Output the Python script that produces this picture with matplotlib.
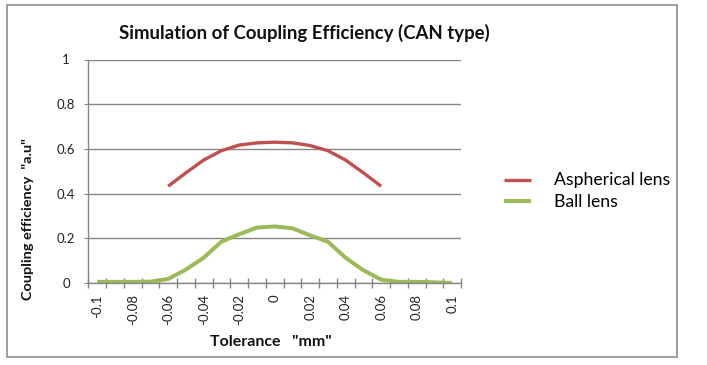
import numpy as np
import matplotlib
matplotlib.use("Agg")
import matplotlib.pyplot as plt
from matplotlib.patches import Rectangle

plt.rcParams['font.family'] = ['Lato', 'DejaVu Sans']

# tolerance categories (mm), one every 0.01
tolerance = [-0.1, -0.09, -0.08, -0.07, -0.06, -0.05, -0.04, -0.03, -0.02, -0.01, 0,
             0.01, 0.02, 0.03, 0.04, 0.05, 0.06, 0.07, 0.08, 0.09, 0.1]
tick_labels = ["-0.1", "", "-0.08", "", "-0.06", "", "-0.04", "", "-0.02", "", "0",
               "", "0.02", "", "0.04", "", "0.06", "", "0.08", "", "0.1"]

# aspherical lens only simulated from -0.06 to 0.06
aspherical = [None, None, None, None, 0.433, 0.493, 0.55, 0.592, 0.617, 0.627, 0.63,
              0.627, 0.615, 0.592, 0.55, 0.493, 0.433, None, None, None, None]
ball = [0.005, 0.005, 0.005, 0.006, 0.018, 0.06, 0.113, 0.185, 0.218, 0.248, 0.253,
        0.245, 0.213, 0.185, 0.113, 0.057, 0.015, 0.005, 0.005, 0.003, 0.0]

red = '#C0504D'
green = '#9BBB59'
grid_col = '#868686'

W, H = 707, 365
fig = plt.figure(figsize=(W / 100, H / 100), dpi=100)
ax = fig.add_axes([88.3 / W, 1 - 283 / H, (461 - 88.3) / W, (283 - 59.5) / H])

x = np.arange(len(tolerance))
asp = np.array([np.nan if v is None else v for v in aspherical], dtype=float)
ax.plot(x, asp, color=red, lw=2.4, solid_capstyle='butt', label='Aspherical lens')
ax.plot(x, ball, color=green, lw=2.9, solid_capstyle='butt', label='Ball lens')

ax.set_xlim(-0.5, len(tolerance) - 0.5)
ax.set_ylim(0, 1)

# category labels at centres, tick marks between categories
ax.set_xticks(x)
ax.set_xticklabels(tick_labels, rotation=90, fontsize=9.5, color='#222222')
ax.set_xticks(np.arange(-0.5, len(tolerance)), minor=True)
ax.tick_params(axis='x', which='major', length=0, pad=8)
ax.tick_params(axis='x', which='minor', length=7, direction='inout', color=grid_col, width=1)

ax.set_yticks(np.arange(0, 1.01, 0.2))
ax.set_yticklabels(["0", "0.2", "0.4", "0.6", "0.8", "1"], fontsize=9.5, color='#222222')
ax.tick_params(axis='y', length=3, color=grid_col, pad=13)
for t in ax.get_yticklabels():
    t.set_horizontalalignment('center')

ax.yaxis.grid(True, color=grid_col, lw=1)
ax.set_axisbelow(True)
for s in ['top', 'right']:
    ax.spines[s].set_visible(False)
for s in ['left', 'bottom']:
    ax.spines[s].set_color(grid_col)
    ax.spines[s].set_linewidth(1)

renderer = fig.canvas.get_renderer()


def fit_text(t, target, vertical=False):
    # scale font so the text spans the same pixel length as in the reference
    bb = t.get_window_extent(renderer)
    size = bb.height if vertical else bb.width
    t.set_fontsize(t.get_fontsize() * target / size)


title = fig.text(304 / W, 1 - 33 / H, "Simulation of Coupling Efficiency (CAN type)",
                 ha='center', va='center', fontsize=12, fontweight='bold', color='#111111')
fit_text(title, 368)
xl = fig.text(271 / W, 1 - 342 / H, 'Tolerance   "mm"', ha='center', va='center',
              fontsize=11, fontweight='bold', color='#111111')
fit_text(xl, 122)
yl = fig.text(28 / W, 1 - 219 / H, 'Coupling efficiency  "a.u"', ha='center', va='center',
              rotation=90, fontsize=10.5, fontweight='bold', color='#111111')
fit_text(yl, 162, vertical=True)

leg = ax.legend(loc='center left', bbox_to_anchor=(490 / W, 1 - 191 / H),
                bbox_transform=fig.transFigure, frameon=False, fontsize=11,
                handlelength=1.8, handletextpad=1.5, labelspacing=0.35)
fit_text(leg.get_texts()[0], 116)
leg.get_texts()[1].set_fontsize(leg.get_texts()[0].get_fontsize())

# outer chart border
fig.patches.append(Rectangle((7 / W, 1 - 357 / H), (677 - 7) / W, (357 - 5) / H,
                             transform=fig.transFigure, fill=False,
                             edgecolor='#8c8c8c', lw=1.2))

fig.savefig('out.png', dpi=100)
